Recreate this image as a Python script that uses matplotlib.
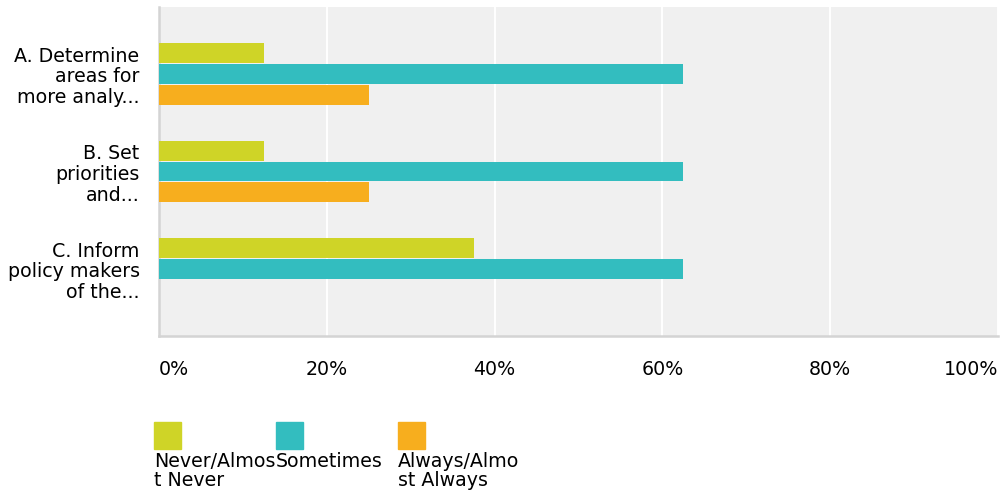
import numpy as np
import matplotlib.pyplot as plt
from matplotlib.patches import Rectangle

categories = ["A. Determine\nareas for\nmore analy...",
              "B. Set\npriorities\nand...",
              "C. Inform\npolicy makers\nof the..."]
series_names = ["Never/Almost Never", "Sometimes", "Always/Almost Always"]
never_vals = [12.5, 12.5, 37.5]
sometimes_vals = [62.5, 62.5, 62.5]
always_vals = [25.0, 25.0, 0.0]
tick_vals = [0, 20, 40, 60, 80, 100]
tick_labels = ["0%", "20%", "40%", "60%", "80%", "100%"]

colors = ["#cfd427", "#33bdbf", "#f7ae1e"]
fsize = 13.7

fig = plt.figure(figsize=(10.01, 4.95), dpi=100)
ax = fig.add_axes([159 / 1001, 159 / 495, 839 / 1001, 329 / 495])
ax.set_facecolor("#f0f0f0")

y = np.arange(len(categories))
bar_h = 0.205
step = 0.215
for i, vals in enumerate([never_vals, sometimes_vals, always_vals]):
    ax.barh(y + (i - 1) * step, vals, height=bar_h, color=colors[i], zorder=3)

ax.set_xlim(0, 100)
ax.set_ylim(2.687, -0.687)
ax.set_xticks(tick_vals)
ax.set_xticklabels(tick_labels, fontsize=fsize)
xl = ax.get_xticklabels()
xl[0].set_ha("left")
xl[-1].set_ha("right")
ax.set_yticks(y)
ax.set_yticklabels(categories, fontsize=fsize, linespacing=1.12)
ax.tick_params(axis="x", length=0, pad=17)
ax.tick_params(axis="y", length=0, pad=14)
ax.grid(axis="x", color="white", linewidth=1.4, zorder=1)
ax.grid(axis="y", visible=False)
for s in ["top", "right"]:
    ax.spines[s].set_visible(False)
for s in ["left", "bottom"]:
    ax.spines[s].set_color("#d4d4d4")
    ax.spines[s].set_linewidth(1.8)

# legend drawn manually: squares with wrapped labels underneath
for i, name in enumerate(series_names):
    x0 = (154 + i * 122) / 1001
    fig.patches.append(Rectangle((x0, (495 - 449) / 495), 27 / 1001, 27 / 495,
                                 transform=fig.transFigure, color=colors[i]))
    label = name[:11] + ("\n" + name[11:] if len(name) > 11 else "")
    fig.text(x0, (495 - 452) / 495, label, fontsize=fsize, va="top", ha="left",
             linespacing=1.0)

fig.savefig("out.png", dpi=100)
